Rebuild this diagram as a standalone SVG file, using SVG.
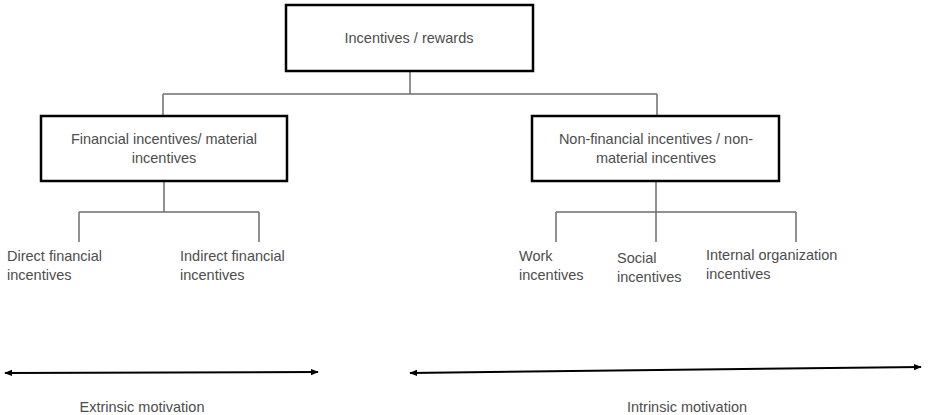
<svg xmlns="http://www.w3.org/2000/svg" width="944" height="415" viewBox="0 0 944 415">
<defs>
<style>
.box{fill:#fff;stroke:#000;stroke-width:2.5}
.ln{fill:none;stroke:#6e6e6e;stroke-width:1.5}
.ar{fill:none;stroke:#000;stroke-width:2}
text{font-family:"Liberation Sans",Arial,sans-serif;font-size:14.5px;fill:#4d4d4d}
.c{text-anchor:middle}
</style>
<marker id="ah" viewBox="0 0 10 10" refX="9" refY="5" markerWidth="4" markerHeight="4" orient="auto-start-reverse">
<path d="M0,1 L10,5 L0,9 z" fill="#000"/>
</marker>
</defs>
<rect width="944" height="415" fill="#fff"/>
<g id="connectors">
<path class="ln" d="M410,71 V94 M163,94 H657 M163,94 V116 M657,94 V116"/>
<path class="ln" d="M164,181 V212 M79,212 H259 M79,212 V242 M259,212 V242"/>
<path class="ln" d="M656,181 V242 M556,212 H796 M556,212 V242 M796,212 V242"/>
<line class="ar" x1="5" y1="373" x2="318" y2="372" marker-start="url(#ah)" marker-end="url(#ah)"/>
<line class="ar" x1="410" y1="373" x2="921" y2="367" marker-start="url(#ah)" marker-end="url(#ah)"/>
</g>
<g id="top">
<rect class="box" x="286" y="5" width="247" height="66"/>
<text class="c" x="409" y="43">Incentives / rewards</text>
</g>
<g id="financial">
<rect class="box" x="41" y="116" width="246" height="65"/>
<text class="c" x="164" y="144">Financial incentives/ material</text>
<text class="c" x="164" y="163">incentives</text>
</g>
<g id="nonfinancial">
<rect class="box" x="532" y="116" width="247" height="65"/>
<text class="c" x="656" y="144">Non-financial incentives / non-</text>
<text class="c" x="656" y="163">material incentives</text>
</g>
<g id="direct">
<text x="7" y="261">Direct financial</text>
<text x="7" y="280">incentives</text>
</g>
<g id="indirect">
<text x="180" y="261">Indirect financial</text>
<text x="180" y="280">incentives</text>
</g>
<g id="work">
<text x="519" y="261">Work</text>
<text x="519" y="280">incentives</text>
</g>
<g id="social">
<text x="617" y="263">Social</text>
<text x="617" y="282">incentives</text>
</g>
<g id="internal">
<text x="706" y="260">Internal organization</text>
<text x="706" y="279">incentives</text>
</g>
<g id="extrinsic">
<text class="c" x="142" y="412">Extrinsic motivation</text>
</g>
<g id="intrinsic">
<text class="c" x="687" y="412">Intrinsic motivation</text>
</g>
</svg>
